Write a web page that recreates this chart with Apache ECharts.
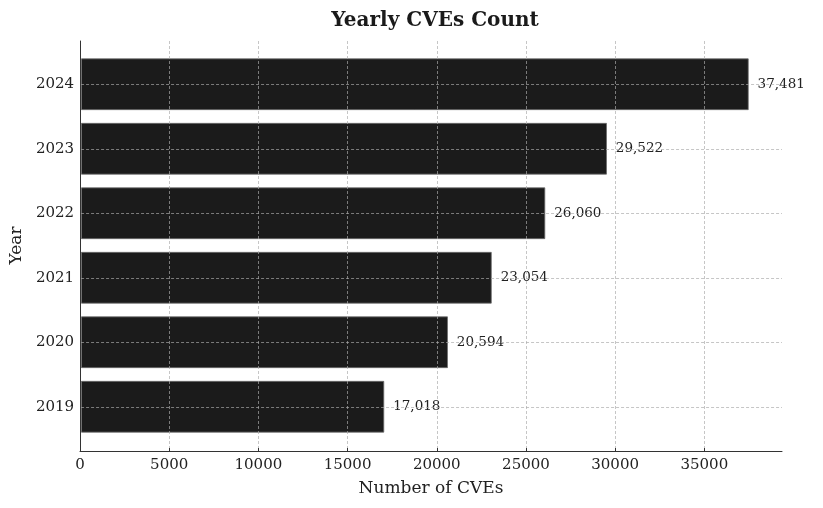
<!DOCTYPE html>
<html>
<head>
<meta charset="utf-8">
<script src="https://cdn.jsdelivr.net/npm/echarts@6/dist/echarts.min.js"></script>
<style>
html,body{margin:0;padding:0;background:#fff;}
#chart{width:823px;height:508px;}
</style>
</head>
<body>
<div id="chart"></div>
<script>
const years = ['2019', '2020', '2021', '2022', '2023', '2024'];
const cveCounts = [17018, 20594, 23054, 26060, 29522, 37481];
const xMax = 39355;       // axis end (data max + 5% margin)
const xTickMax = 35000;   // last tick
const xInterval = 5000;

const FONT = 'DejaVu Serif';
const gridLine = { show: true, lineStyle: { color: 'rgba(170,170,170,0.85)', type: [3, 2], width: 0.8 } };

const plotLeft = 80, plotRight = 41, plotW = 823 - plotLeft - plotRight;
const tickGridRight = 823 - plotLeft - plotW * xTickMax / xMax;

const chart = echarts.init(document.getElementById('chart'), null, { renderer: 'canvas' });
chart.setOption({
  backgroundColor: '#fff',
  animation: false,
  title: {
    text: 'Yearly CVEs Count',
    left: 430, top: 6, textAlign: 'center',
    textStyle: { fontFamily: FONT, fontSize: 20, fontWeight: 'bold', color: '#1a1a1a' }
  },
  grid: [
    { left: plotLeft, right: plotRight, top: 52, bottom: 69 },
    { left: plotLeft, right: plotRight, top: 41, bottom: 57 },
    { left: plotLeft, right: tickGridRight, top: 41, bottom: 57 }
  ],
  xAxis: [
    { type: 'value', gridIndex: 0, min: 0, max: xMax, show: false, splitLine: { show: false } },
    {
      type: 'value', gridIndex: 1, min: 0, max: xMax, z: 6,
      axisLine: { show: true, lineStyle: { color: '#333', width: 1 } },
      axisTick: { show: false }, axisLabel: { show: false }, splitLine: { show: false },
      name: 'Number of CVEs', nameLocation: 'middle', nameGap: 29,
      nameTextStyle: { fontFamily: FONT, fontSize: 17, color: '#222' }
    },
    {
      type: 'value', gridIndex: 2, min: 0, max: xTickMax, interval: xInterval, z: 5,
      axisLine: { show: false },
      axisTick: { show: true, inside: true, length: 3, lineStyle: { color: '#333' } },
      axisLabel: { fontFamily: FONT, fontSize: 15, color: '#222', margin: 7, formatter: v => String(v) },
      splitLine: gridLine
    }
  ],
  yAxis: [
    {
      type: 'category', gridIndex: 0, data: years, z: 5,
      axisLine: { show: false },
      axisTick: { show: false, alignWithLabel: true },
      axisLabel: { fontFamily: FONT, fontSize: 15, color: '#222', margin: 7 },
      splitLine: Object.assign({ alignWithLabel: true }, gridLine),
      name: 'Year', nameLocation: 'middle', nameGap: 54, nameRotate: 90,
      nameTextStyle: { fontFamily: FONT, fontSize: 17, color: '#222' }
    },
    {
      type: 'value', gridIndex: 1, min: 0, max: 1, z: 6,
      axisLine: { show: true, lineStyle: { color: '#333', width: 1 } },
      axisTick: { show: false }, axisLabel: { show: false }, splitLine: { show: false }
    },
    {
      type: 'value', gridIndex: 2, min: 0, max: 1, show: false, splitLine: { show: false }
    }
  ],
  series: [{
    type: 'bar',
    xAxisIndex: 0, yAxisIndex: 0,
    data: cveCounts,
    barWidth: '80%',
    itemStyle: { color: '#1b1b1b', borderColor: '#6a6a6a', borderWidth: 0.8 },
    label: {
      show: true, position: 'right', distance: 9,
      fontFamily: FONT, fontSize: 13.5, color: '#222',
      formatter: p => p.value.toLocaleString('en-US')
    }
  }]
});
</script>
</body>
</html>
